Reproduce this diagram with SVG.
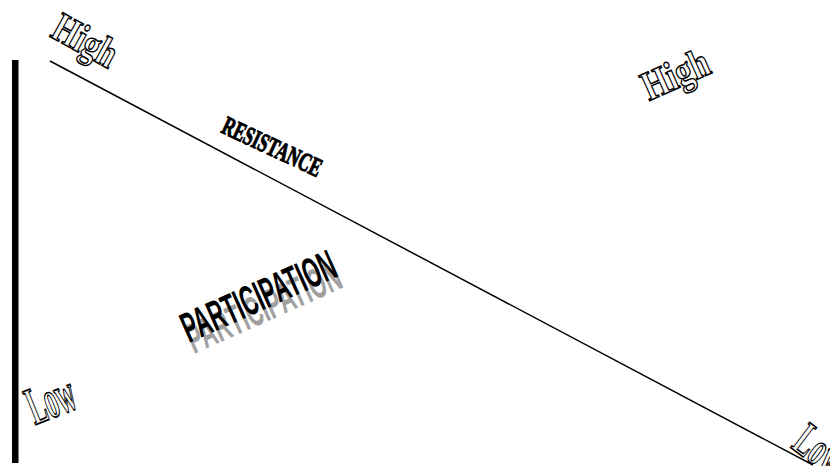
<svg xmlns="http://www.w3.org/2000/svg" width="830" height="466" viewBox="0 0 830 466">
<style>
.wa{font-family:"Liberation Serif","Times New Roman",serif;font-weight:bold;fill:#fff;stroke:#000;stroke-width:1.3}
.res{font-family:"Liberation Serif","Times New Roman",serif;font-weight:bold;fill:#000;stroke:#000;stroke-width:1}
.par{font-family:"Liberation Sans",Arial,sans-serif;font-weight:bold}
</style>
<rect width="830" height="466" fill="#fff"/>
<g id="connectors">
<rect x="12" y="60" width="6.5" height="403" fill="#000"/>
<line x1="50" y1="61" x2="813" y2="465" stroke="#000" stroke-width="1.5"/>
</g>
<g id="high-left"><text class="wa" font-size="36" transform="translate(49,36) rotate(29) scale(1,1.15)" textLength="68" lengthAdjust="spacingAndGlyphs">High</text></g>
<g id="high-right"><text class="wa" font-size="36" transform="translate(649,101) rotate(-24) scale(1,1.15)" textLength="70" lengthAdjust="spacingAndGlyphs">High</text></g>
<g id="resistance"><text class="res" font-size="24" transform="translate(220,132) rotate(25) scale(1,1.1)" textLength="107" lengthAdjust="spacingAndGlyphs">RESISTANCE</text></g>
<g id="participation">
<text class="par" font-size="34" fill="#a0a0a0" transform="translate(194,354) rotate(-24) scale(1,1.25)" textLength="165" lengthAdjust="spacingAndGlyphs">PARTICIPATION</text>
<text class="par" font-size="34" fill="#000" transform="translate(189,343) rotate(-24) scale(1,1.25)" textLength="165" lengthAdjust="spacingAndGlyphs">PARTICIPATION</text>
</g>
<g id="low-left"><text class="wa" font-size="40" transform="translate(35,425) rotate(-22) scale(1,1.35)" textLength="48" lengthAdjust="spacingAndGlyphs">Low</text></g>
<g id="low-right"><text class="wa" font-size="40" transform="translate(790,447) rotate(37) scale(1,1.2)" textLength="52" lengthAdjust="spacingAndGlyphs">Low</text></g>
</svg>
